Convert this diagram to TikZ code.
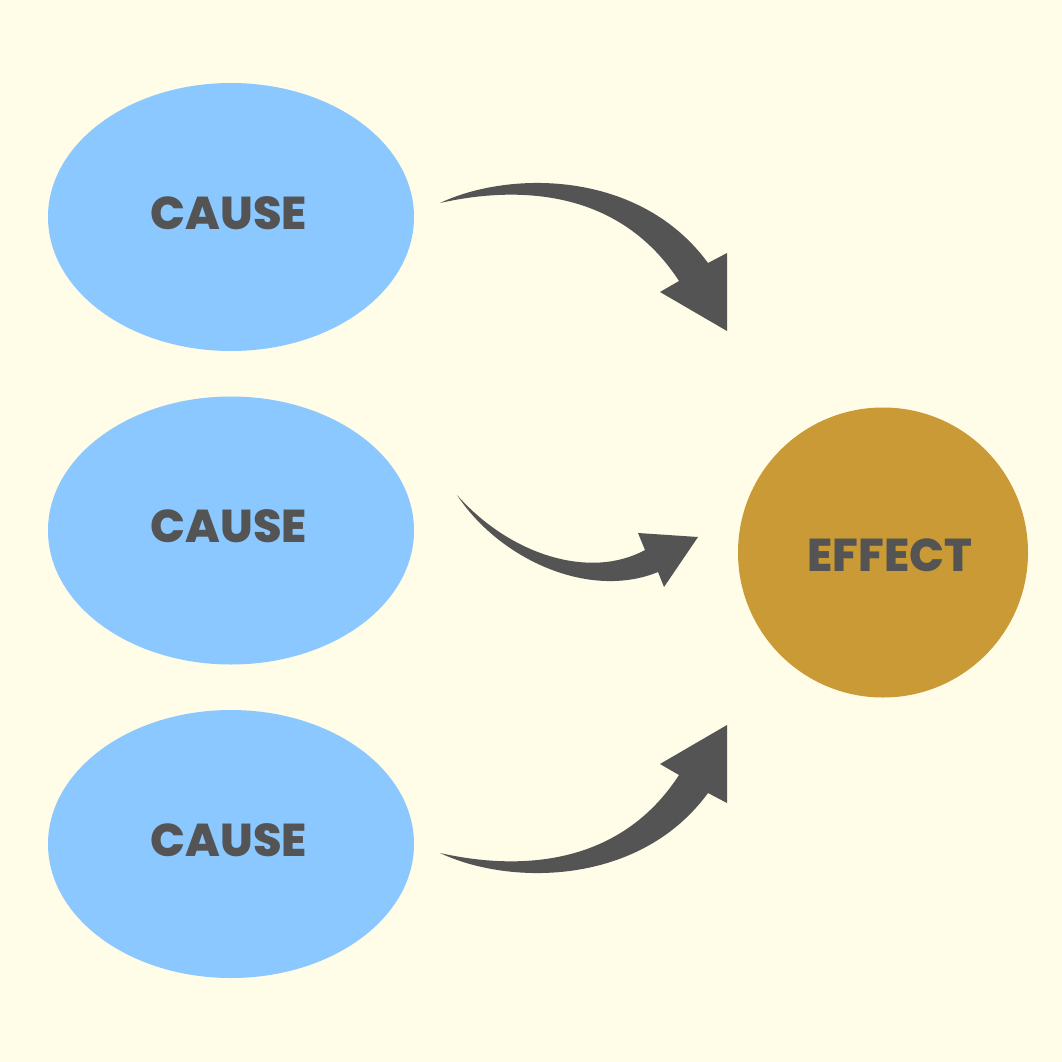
\documentclass[tikz,border=0pt]{standalone}
\usetikzlibrary{shapes.geometric}
\usepackage{fontspec}
\setmainfont{Poppins}[BoldFont={* ExtraBold}]
\definecolor{bg}{HTML}{FFFCE8}
\definecolor{causecol}{HTML}{8AC8FF}
\definecolor{effectcol}{HTML}{C99A35}
\definecolor{ink}{HTML}{545454}
\begin{document}
\begin{tikzpicture}[x=1pt,y=-1pt,
  cause/.style={ellipse, fill=causecol, minimum width=366pt, minimum height=268pt, inner sep=0pt},
  effect/.style={circle, fill=effectcol, minimum size=290pt, inner sep=0pt},
  lbl/.style={text=ink, font=\fontsize{46}{46}\selectfont\bfseries, inner sep=0pt},
  arrowshape/.style={fill=ink, draw=none}]
\useasboundingbox (0,0) rectangle (1062,1062);
\fill[bg] (0,0) rectangle (1062,1062);
\node[cause] (c1) at (231,217) {};
\node[cause] (c2) at (231,530.5) {};
\node[cause] (c3) at (231,844) {};
\node[effect] (e) at (883,552.5) {};
\node[lbl] (t1) at (229,213) {CAUSE};
\node[lbl] (t2) at (229,526) {CAUSE};
\node[lbl] (t3) at (229,840) {CAUSE};
\node[lbl] (te) at (890,555) {EFFECT};
% arrow 1 (top)
\fill[arrowshape] (440,203) .. controls (510,170) and (640,170) .. (708,263)
  -- (727,253) -- (727,331) -- (660,292) -- (679,281)
  .. controls (620,190) and (520,185) .. (440,203) -- cycle;
% arrow 2 (middle)
\fill[arrowshape] (457,495) .. controls (510,555) and (590,580) .. (645,550)
  -- (638,533) -- (698,537) -- (664,587) -- (658,572)
  .. controls (590,600) and (500,560) .. (457,495) -- cycle;
% arrow 3 (bottom)
\fill[arrowshape] (440,853) .. controls (510,886) and (640,886) .. (708,793)
  -- (727,803) -- (727,725) -- (660,764) -- (679,775)
  .. controls (620,866) and (520,871) .. (440,853) -- cycle;
\end{tikzpicture}
\end{document}
